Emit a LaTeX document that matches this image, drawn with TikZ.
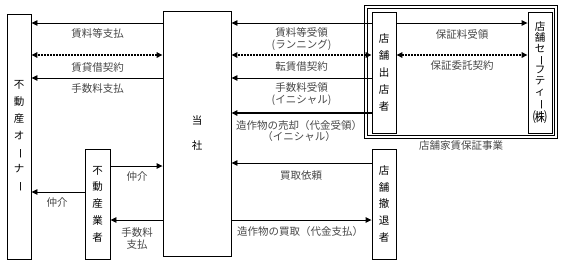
\documentclass[tikz,border=0pt]{standalone}
\usepackage{fontspec}
\setmainfont{Noto Sans CJK JP}
\usetikzlibrary{arrows.meta}
\newcommand{\vchoon}{\rotatebox[origin=c]{-90}{ー}}
\begin{document}
\begin{tikzpicture}[x=1pt,y=-1pt,
  box/.style={draw, line width=0.9pt, inner sep=0pt, align=center,
              font=\fontsize{10.5pt}{16.8pt}\selectfont},
  lab/.style={inner sep=0pt, text=black!72, align=center,
              font=\fontsize{10.5pt}{11.5pt}\selectfont},
  arr/.style={line width=0.9pt, -{Triangle[length=6pt,width=5.5pt]}},
  thickarr/.style={line width=1.5pt, -{Triangle[length=6pt,width=5.5pt]}},
  darr/.style={line width=1.5pt, dash pattern=on 1.5pt off 1.5pt,
               {Triangle[length=6pt,width=5.5pt]}-{Triangle[length=6pt,width=5.5pt]}},
  frm/.style={draw, double, double distance=1.8pt, line width=0.8pt, inner sep=0pt}
]
\useasboundingbox (0,0) rectangle (564,266);

% frame of the guarantee business
\node[frm, minimum width=190, minimum height=130] (frame) at (461,72) {};
\node[lab] (caption) at (461,146) {店舗家賃保証事業};

% boxes
\node[box, minimum width=24, minimum height=245] (owner) at (19,136.5)
  {不\\動\\産\\オ\\\vchoon\\ナ\\\vchoon};
\node[box, minimum width=68, minimum height=245,
      font=\fontsize{10.5pt}{25pt}\selectfont] (tosha) at (197,133.5) {当\\社};
\node[box, minimum width=25, minimum height=110] (agent) at (97.5,204)
  {不\\動\\産\\業\\者};
\node[box, minimum width=24, minimum height=121] (tenant) at (384,72.5)
  {店\\舗\\出\\店\\者};
\node[box, minimum width=24, minimum height=121,
      font=\fontsize{10.5pt}{10.9pt}\selectfont] (safety) at (540,72.5)
  {店\\舗\\セ\\\vchoon\\フ\\テ\\ィ\\\vchoon\\\scalebox{1.35}{㈱}};
\node[box, minimum width=24, minimum height=110] (exit) at (384,204)
  {店\\舗\\撤\\退\\者};

% owner <-> tosha
\draw[arr] (tosha.west |- 0,23) -- (owner.east |- 0,23);
\node[lab] (l1) at (97.5,33) {賃料等支払};
\draw[darr] (tosha.west |- 0,55) -- (owner.east |- 0,55);
\node[lab] (l2) at (97.5,67) {賃貸借契約};
\draw[arr] (tosha.west |- 0,78) -- (owner.east |- 0,78);
\node[lab] (l3) at (97.5,89) {手数料支払};

% tosha <-> tenant
\draw[arr] (tenant.west |- 0,23) -- (tosha.east |- 0,23);
\node[lab] (l4) at (301.5,39) {賃料等受領\\(ランニング)};
\draw[darr] (tenant.west |- 0,55) -- (tosha.east |- 0,55);
\node[lab] (l5) at (301.5,67) {転賃借契約};
\draw[arr] (tenant.west |- 0,78) -- (tosha.east |- 0,78);
\node[lab] (l6) at (301.5,94) {手数料受領\\(イニシャル)};
\draw[thickarr] (tenant.west |- 0,113) -- (tosha.east |- 0,113);
\node[lab] (l7) at (299,131) {造作物の売却（代金受領）\\（イニシャル）};

% tenant <-> safety
\draw[arr] (tenant.east |- 0,23) -- (safety.west |- 0,23);
\node[lab] (l8) at (462,34) {保証料受領};
\draw[darr] (tenant.east |- 0,55) -- (safety.west |- 0,55);
\node[lab] (l9) at (462,66) {保証委託契約};

% agent
\draw[arr] (agent.east |- 0,166) -- (tosha.west |- 0,166);
\node[lab] (l10) at (137,177) {仲介};
\draw[arr] (agent.west |- 0,192) -- (owner.east |- 0,192);
\node[lab] (l11) at (57,203) {仲介};
\draw[arr] (tosha.west |- 0,220) -- (agent.east |- 0,220);
\node[lab] (l12) at (137,238.5) {手数料\\支払};

% exit
\draw[arr] (exit.west |- 0,163) -- (tosha.east |- 0,163);
\node[lab] (l13) at (301,176) {買取依頼};
\draw[arr] (tosha.east |- 0,220) -- (exit.west |- 0,220);
\node[lab] (l14) at (300,232) {造作物の買取（代金支払）};
\end{tikzpicture}
\end{document}
